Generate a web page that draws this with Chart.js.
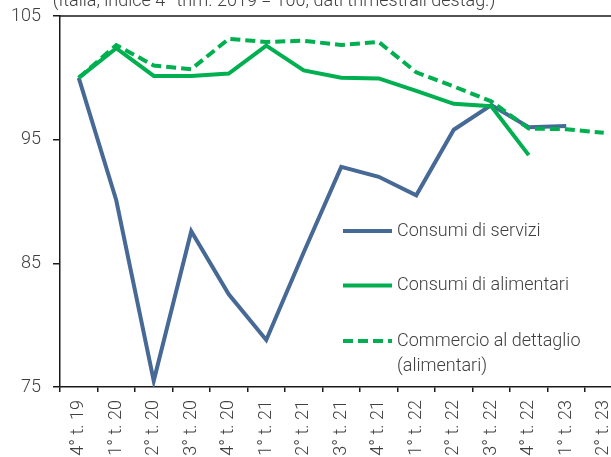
<!DOCTYPE html>
<html>
<head>
<meta charset="utf-8">
<script src="https://cdn.jsdelivr.net/npm/chart.js@4/dist/chart.umd.min.js"></script>
<style>
html,body{margin:0;padding:0;background:#fff;overflow:hidden;}
#wrap{position:relative;width:611px;height:457px;overflow:hidden;}
canvas{position:absolute;left:0;top:0;}
</style>
</head>
<body>
<div id="wrap"><canvas id="c" width="640" height="480"></canvas></div>
<script>
const titleText = "(Italia, indice 4° trim. 2019 = 100; dati trimestrali destag.)";
const categories = ["4° t. 19","1° t. 20","2° t. 20","3° t. 20","4° t. 20","1° t. 21","2° t. 21","3° t. 21","4° t. 21","1° t. 22","2° t. 22","3° t. 22","4° t. 22","1° t. 23","2° t. 23"];
const serviziLabel = "Consumi di servizi";
const alimentariLabel = "Consumi di alimentari";
const commercioLabel = ["Commercio al dettaglio", "(alimentari)"];
const servizi = [100, 90.1, 75.5, 87.6, 82.5, 78.8, 85.9, 92.8, 92.0, 90.5, 95.8, 97.8, 96.0, 96.1, null];
const alimentari = [100, 102.4, 100.15, 100.15, 100.35, 102.6, 100.6, 100.0, 99.95, 98.95, 97.9, 97.7, 93.75, null, null];
const commercio = [100, 102.65, 101.0, 100.7, 103.15, 102.9, 103.0, 102.65, 102.9, 100.45, 99.3, 98.1, 95.9, 95.85, 95.55];
const yTicks = [75, 85, 95, 105];

const BLUE = "#476996";
const GREEN = "#00b050";
const TEXT = "#404040";
const AXIS = "#1a1a1a";
const FONT = "Roboto";
const WEIGHT = "300";

const extras = {
  id: "extras",
  afterDraw(chart) {
    const ctx = chart.ctx;
    const a = chart.chartArea;
    ctx.save();
    // top border
    ctx.strokeStyle = AXIS;
    ctx.lineWidth = 1.5;
    ctx.beginPath();
    ctx.moveTo(a.left, a.top);
    ctx.lineTo(chart.width, a.top);
    ctx.stroke();
    // title
    ctx.fillStyle = TEXT;
    ctx.font = WEIGHT + " 18px " + FONT;
    ctx.textAlign = "center";
    ctx.textBaseline = "alphabetic";
    ctx.fillText(titleText, 274, 6);
    // legend
    const items = [
      {color: BLUE, dash: [], text: [serviziLabel], y: 231},
      {color: GREEN, dash: [], text: [alimentariLabel], y: 285.5},
      {color: GREEN, dash: [10, 5], text: commercioLabel, y: 341}
    ];
    ctx.textAlign = "left";
    ctx.textBaseline = "middle";
    items.forEach(it => {
      ctx.strokeStyle = it.color;
      ctx.lineWidth = 4;
      ctx.setLineDash(it.dash);
      ctx.beginPath();
      ctx.moveTo(343, it.y);
      ctx.lineTo(392, it.y);
      ctx.stroke();
      ctx.setLineDash([]);
      it.text.forEach((t, i) => ctx.fillText(t, 397, it.y + i * 25.5));
    });
    ctx.restore();
  }
};

new Chart(document.getElementById("c"), {
  type: "line",
  data: {
    labels: categories,
    datasets: [
      {label: serviziLabel, data: servizi, borderColor: BLUE, backgroundColor: BLUE, borderWidth: 4, pointRadius: 0, tension: 0, order: 3},
      {label: alimentariLabel, data: alimentari, borderColor: GREEN, backgroundColor: GREEN, borderWidth: 4, pointRadius: 0, tension: 0, order: 2},
      {label: commercioLabel.join(" "), data: commercio, borderColor: GREEN, backgroundColor: GREEN, borderWidth: 4, borderDash: [10, 5], pointRadius: 0, tension: 0, order: 1}
    ]
  },
  options: {
    responsive: false,
    animation: false,
    devicePixelRatio: 1,
    layout: {padding: {top: 16, right: 17.5, left: 0, bottom: 0}},
    plugins: {legend: {display: false}, tooltip: {enabled: false}, title: {display: false}},
    scales: {
      x: {
        type: "category",
        offset: true,
        grid: {display: true, drawOnChartArea: false, drawTicks: true, tickLength: 5, offset: true, color: AXIS, lineWidth: 1.5},
        border: {display: true, color: AXIS, width: 1.5},
        ticks: {autoSkip: false, minRotation: 90, maxRotation: 90, padding: 8, color: TEXT, font: {family: FONT, size: 18, weight: WEIGHT}},
        afterFit(s) { s.height = 93; s.paddingLeft = 0; s.paddingRight = 0; }
      },
      y: {
        min: 75, max: 105,
        afterBuildTicks(s) { s.ticks = yTicks.map(v => ({value: v})); },
        grid: {display: true, drawOnChartArea: false, drawTicks: true, tickLength: 7, color: AXIS, lineWidth: 1.5},
        border: {display: true, color: AXIS, width: 1.5},
        ticks: {padding: 12, color: TEXT, font: {family: FONT, size: 18, weight: WEIGHT}},
        afterFit(s) { s.width = 60; s.paddingTop = 0; s.paddingBottom = 0; }
      }
    }
  },
  plugins: [extras]
});
</script>
</body>
</html>
